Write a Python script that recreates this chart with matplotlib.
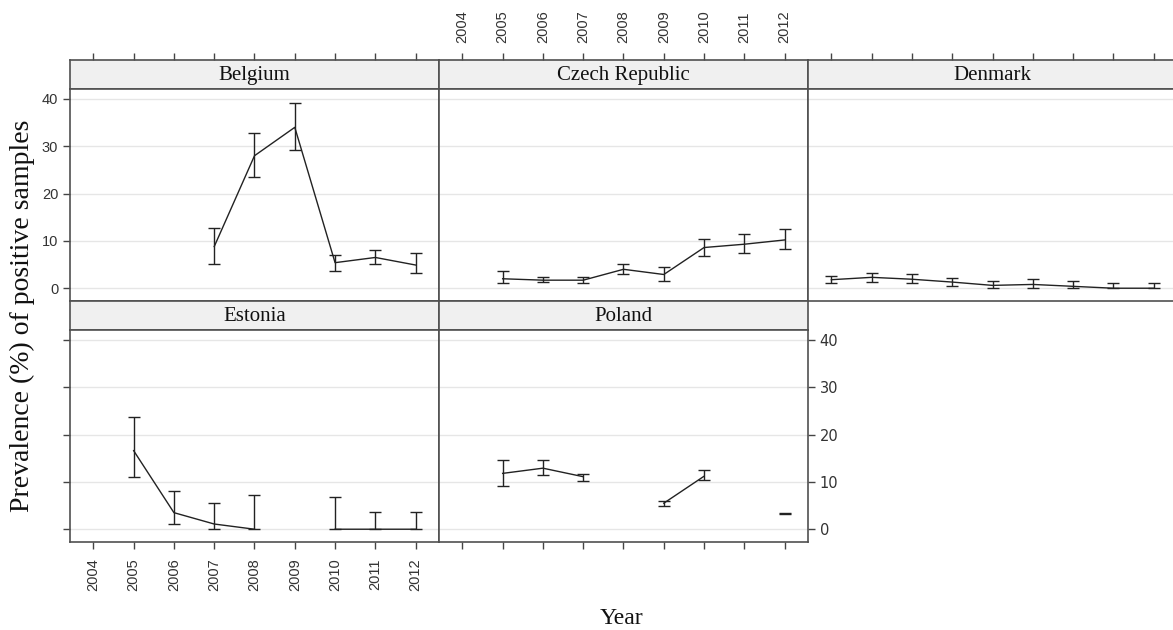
import numpy as np
import matplotlib.pyplot as plt

nan = np.nan
years = [2004, 2005, 2006, 2007, 2008, 2009, 2010, 2011, 2012]

countries = ['Belgium', 'Czech Republic', 'Denmark', 'Estonia', 'Poland']

belgium = [nan, nan, nan, 8.8, 28.0, 34.0, 5.4, 6.5, 4.9]
belgium_lo = [nan, nan, nan, 5.2, 23.5, 29.2, 3.7, 5.2, 3.2]
belgium_hi = [nan, nan, nan, 12.7, 32.8, 39.2, 7.1, 8.1, 7.5]

czech = [nan, 2.0, 1.7, 1.7, 4.0, 2.9, 8.6, 9.3, 10.2]
czech_lo = [nan, 1.1, 1.3, 1.1, 3.0, 1.6, 6.8, 7.4, 8.2]
czech_hi = [nan, 3.7, 2.3, 2.3, 5.2, 4.4, 10.5, 11.4, 12.5]

denmark = [1.8, 2.3, 1.9, 1.3, 0.6, 0.8, 0.4, 0.0, 0.0]
denmark_lo = [1.0, 1.4, 1.0, 0.4, 0.0, 0.0, 0.0, 0.0, 0.0]
denmark_hi = [2.5, 3.2, 3.0, 2.1, 1.6, 2.0, 1.6, 1.2, 1.0]

estonia = [nan, 16.6, 3.5, 1.1, 0.0, nan, 0.0, 0.0, 0.0]
estonia_lo = [nan, 11.1, 1.2, 0.0, 0.0, nan, 0.0, 0.0, 0.0]
estonia_hi = [nan, 23.8, 8.1, 5.6, 7.3, nan, 6.8, 3.6, 3.6]

poland = [nan, 11.8, 12.9, 11.1, nan, 5.5, 11.2, nan, 3.4]
poland_lo = [nan, 9.1, 11.4, 10.2, nan, 5.0, 10.4, nan, 3.2]
poland_hi = [nan, 14.7, 14.7, 11.6, nan, 6.0, 12.5, nan, 3.5]

series = [(belgium, belgium_lo, belgium_hi),
          (czech, czech_lo, czech_hi),
          (denmark, denmark_lo, denmark_hi),
          (estonia, estonia_lo, estonia_hi),
          (poland, poland_lo, poland_hi)]

yticks = [0, 10, 20, 30, 40]

W, H = 1173, 630
fig = plt.figure(figsize=(W / 100, H / 100), dpi=100)

serif = 'Liberation Serif'
sans = 'Liberation Sans'
edge = '#505050'
tick_fs = 10.5

col_x = [70, 439, 808]
col_w = 369
row_strip = [60, 301]
strip_h = 29
panel_h = 212


def px_axes(x, y, w, h):
    return fig.add_axes([x / W, 1 - (y + h) / H, w / W, h / H])


for i, name in enumerate(countries):
    row, col = divmod(i, 3)
    x0 = col_x[col]
    ys = row_strip[row]

    # strip
    sax = px_axes(x0, ys, col_w, strip_h)
    sax.set_facecolor('#f0f0f0')
    sax.set_xticks([])
    sax.set_yticks([])
    for s in sax.spines.values():
        s.set_color(edge)
        s.set_linewidth(1.2)
    sax.text(0.5, 0.45, name, transform=sax.transAxes, ha='center', va='center',
             fontsize=15, family=serif, color='#111111')

    ax = px_axes(x0, ys + strip_h, col_w, panel_h)
    val, lo, hi = [np.array(a, dtype=float) for a in series[i]]
    ax.set_xlim(2003.42, 2012.58)
    ax.set_ylim(-2.7, 42.1)
    for t in yticks:
        ax.axhline(t, color='#e6e6e6', lw=1.0, zorder=0)
    ax.plot(years, val, color='#222222', lw=1.0)
    ax.errorbar(years, val, yerr=[val - lo, hi - val], fmt='none',
                ecolor='#222222', elinewidth=1.0, capsize=4.5, capthick=1.0)
    for s in ax.spines.values():
        s.set_color(edge)
        s.set_linewidth(1.2)

    ax.set_xticks(years)
    ax.set_yticks(yticks)
    ax.tick_params(length=5, width=1, color='#444444', labelsize=tick_fs,
                   labelcolor='#333333', direction='out')
    for lab in ax.get_xticklabels() + ax.get_yticklabels():
        lab.set_family(sans)

    # x axis: top on row 1, bottom on row 2
    if row == 0:
        ax.tick_params(axis='x', bottom=False, labelbottom=False,
                       top=False, labeltop=False)
        # ticks drawn above the strip
        sax.set_xlim(ax.get_xlim())
        sax.set_xticks(years)
        sax.tick_params(axis='x', top=True, bottom=False, labelbottom=False,
                        labeltop=(col == 1), length=5, width=1, color='#444444',
                        labelsize=tick_fs, labelcolor='#333333', labelrotation=90, pad=7)
        for lab in sax.get_xticklabels():
            lab.set_family(sans)
    else:
        ax.tick_params(axis='x', bottom=True, labelbottom=(col == 0),
                       labelrotation=90, pad=7)

    # y axis: left labels on row 1, right labels on row 2
    if col == 0:
        ax.tick_params(axis='y', left=True, labelleft=(row == 0), right=False)
    elif i == len(countries) - 1:
        ax.tick_params(axis='y', left=False, labelleft=False,
                       right=True, labelright=True)
    else:
        ax.tick_params(axis='y', left=False, labelleft=False)

fig.text(621 / W, 1 - 619 / H, 'Year', ha='center', va='center',
         fontsize=17, family=serif, color='#111111')
fig.text(22 / W, 1 - 316 / H, 'Prevalence (%) of positive samples', ha='center',
         va='center', rotation=90, fontsize=20, family=serif, color='#111111')

fig.savefig('out.png', dpi=100)
